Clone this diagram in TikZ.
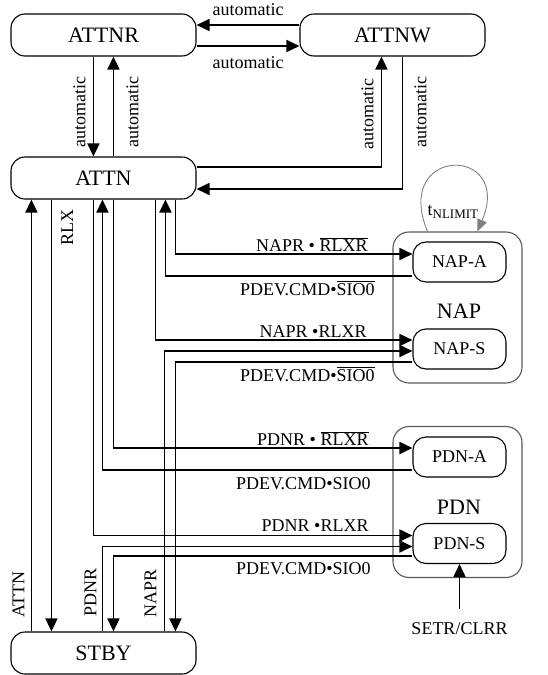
\documentclass[tikz,border=0pt]{standalone}
\usepackage{fontspec}
\setmainfont{Liberation Serif}
\usetikzlibrary{arrows.meta}

\begin{document}
\begin{tikzpicture}[x=1pt, y=-1pt,
    state/.style={rectangle, draw, line width=1.1pt, rounded corners=14pt, minimum width=185pt, minimum height=42pt, inner sep=0pt, font=\fontsize{22}{24}\selectfont},
    substate/.style={rectangle, draw, line width=1.1pt, rounded corners=13pt, minimum width=93pt, minimum height=40pt, inner sep=0pt, font=\fontsize{18}{20}\selectfont},
    group/.style={rectangle, draw=black!65, line width=1.1pt, rounded corners=16pt, minimum width=129pt, minimum height=151pt, inner sep=0pt},
    arrow/.style={-{Triangle[length=13pt,width=12pt]}, line width=1.8pt},
    loopline/.style={-{Triangle[length=12pt,width=10pt]}, draw=black!50, line width=0.9pt},
    lbl/.style={font=\fontsize{18}{20}\selectfont, inner sep=0pt},
    vlbl/.style={lbl, rotate=90},
]
\useasboundingbox (0,0) rectangle (547,675);

\node[state] (attnr) at (103.5,35) {ATTNR};
\node[state] (attnw) at (392.5,35) {ATTNW};
\node[state] (attn) at (103.5,178) {ATTN};
\node[state] (stby) at (103.5,653) {STBY};

\node[group] (nap) at (457.5,307.5) {};
\node[group] (pdn) at (457.5,502) {};
\node[font=\fontsize{22}{24}\selectfont] (naplbl) at (459,311) {NAP};
\node[font=\fontsize{22}{24}\selectfont] (pdnlbl) at (459,507) {PDN};
\node[substate] (napa) at (459.5,262) {NAP-A};
\node[substate] (naps) at (459.5,349) {NAP-S};
\node[substate] (pdna) at (459.5,457) {PDN-A};
\node[substate] (pdns) at (459.5,543.5) {PDN-S};
\node[lbl] (setr) at (459.5,629) {SETR/CLRR};

% top row
\draw[arrow] ([yshift=10pt]attnw.west) -- ([yshift=10pt]attnr.east)
    node[lbl, midway, anchor=base, yshift=10pt] {automatic};
\draw[arrow] ([yshift=-11pt]attnr.east) -- ([yshift=-11pt]attnw.west)
    node[lbl, midway, anchor=base, yshift=-22pt] {automatic};
\draw[arrow] ([xshift=83pt]attnr.south west) -- ([xshift=83pt]attn.north west)
    node[vlbl, pos=.56, anchor=south, outer sep=8pt] {automatic};
\draw[arrow] ([xshift=103pt]attn.north west) -- ([xshift=103pt]attnr.south west)
    node[vlbl, pos=.44, anchor=north, outer sep=13pt] {automatic};
\draw[arrow] ([yshift=11pt]attn.east) -| ([xshift=82pt]attnw.south west)
    node[vlbl, pos=.74, anchor=south, outer sep=8pt] {automatic};
\draw[arrow] ([xshift=103pt]attnw.south west) |- ([yshift=-11pt]attn.east)
    node[vlbl, pos=.21, anchor=north, outer sep=12pt] {automatic};

% ATTN <-> STBY
\draw[arrow] ([xshift=21pt]stby.north west) -- ([xshift=21pt]attn.south west)
    node[vlbl, pos=.085, anchor=south, outer sep=7pt] {ATTN};
\draw[arrow] ([xshift=41pt]attn.south west) -- ([xshift=41pt]stby.north west)
    node[vlbl, pos=.065, anchor=north, outer sep=10pt] {RLX};

% NAP
\draw[arrow] ([xshift=165pt]attn.south west) |- ([yshift=8pt]napa.west)
    node[lbl, at end, anchor=base east, xshift=-44pt, yshift=3pt] {NAPR \textbullet\ $\overline{\mbox{RLXR}}$};
\draw[arrow] ([yshift=-14pt]napa.west) -| ([xshift=155pt]attn.south west)
    node[lbl, at start, anchor=base east, xshift=-37pt, yshift=-19pt] {PDEV.CMD\textbullet$\overline{\mbox{SIO0}}$};
\draw[arrow] ([xshift=145pt]attn.south west) |- ([yshift=9pt]naps.west)
    node[lbl, at end, anchor=base east, xshift=-45pt, yshift=3pt] {NAPR \textbullet RLXR};
\draw[arrow] ([xshift=154pt]stby.north west) |- ([yshift=-2pt]naps.west)
    node[vlbl, pos=.068, anchor=south, outer sep=8pt] {NAPR};
\draw[arrow] ([yshift=-13pt]naps.west) -| ([xshift=165pt]stby.north west)
    node[lbl, at start, anchor=base east, xshift=-37pt, yshift=-19pt] {PDEV.CMD\textbullet$\overline{\mbox{SIO0}}$};

% PDN
\draw[arrow] ([xshift=103pt]attn.south west) |- ([yshift=9pt]pdna.west)
    node[lbl, at end, anchor=base east, xshift=-43pt, yshift=3pt] {PDNR \textbullet\ $\overline{\mbox{RLXR}}$};
\draw[arrow] ([yshift=-13pt]pdna.west) -| ([xshift=92pt]attn.south west)
    node[lbl, at start, anchor=base east, xshift=-41pt, yshift=-19pt] {PDEV.CMD\textbullet SIO0};
\draw[arrow] ([xshift=83pt]attn.south west) |- ([yshift=8pt]pdns.west)
    node[lbl, at end, anchor=base east, xshift=-43pt, yshift=4pt] {PDNR \textbullet RLXR};
\draw[arrow] ([xshift=92pt]stby.north west) |- ([yshift=-3pt]pdns.west)
    node[vlbl, pos=.227, anchor=south, outer sep=6pt] {PDNR};
\draw[arrow] ([yshift=-12.5pt]pdns.west) -| ([xshift=103pt]stby.north west)
    node[lbl, at start, anchor=base east, xshift=-41pt, yshift=-18pt] {PDEV.CMD\textbullet SIO0};

\draw[arrow, shorten <=14pt] (setr.north) -- (pdns.south);

% timeout loop
\draw[loopline] ([xshift=35pt]nap.north west) .. controls (392,145) and (514,145) .. ([xshift=85pt]nap.north west)
    node[lbl, midway, yshift=-45pt] {t\raisebox{-3pt}{\fontsize{13}{14}\selectfont NLIMIT}};
\end{tikzpicture}
\end{document}
